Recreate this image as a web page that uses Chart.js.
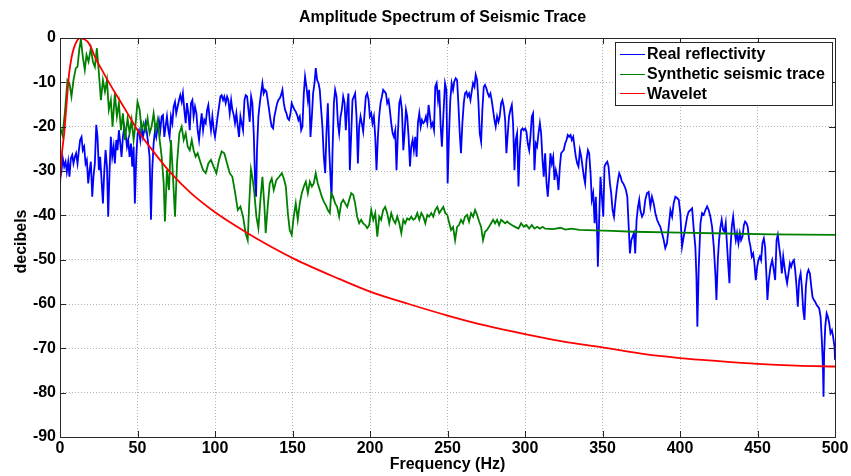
<!DOCTYPE html>
<html>
<head>
<meta charset="utf-8">
<script src="https://cdn.jsdelivr.net/npm/chart.js@4.4.1/dist/chart.umd.min.js"></script>
<style>
  html, body { margin: 0; padding: 0; background: #fff; }
  canvas { display: block; }
</style>
</head>
<body>
<canvas id="spectrum" width="851" height="476"></canvas>
<script>
// [frequency Hz, decibels]
const realReflectivity = [
  [0,-26.8],[1,-29.8],[1.8,-27.1],[2.7,-29],[3.6,-27.9],[4.4,-30.2],[5.3,-27.9],[6.1,-31.3],[7,-27.1],[7.9,-26.4],
  [8.7,-28.3],[9.6,-26.8],[10.4,-26],[11.3,-28.3],[12.2,-25.3],[13,-23],[13.9,-22.3],[14.7,-25.3],[15.6,-24.5],[16.5,-28.3],
  [17.3,-27.5],[18.2,-32.8],[19.1,-29.8],[19.9,-27.9],[20.8,-35.8],[21.6,-31.3],[22.5,-28.3],[23.4,-19.6],[24.2,-22.3],[25.1,-29.8],
  [25.9,-26.8],[26.8,-32],[27.7,-37.3],[28.5,-30.5],[29.4,-25.3],[30.3,-29],[31.1,-40.3],[32,-29.8],[32.8,-22.3],[33.7,-26.8],
  [34.6,-24.5],[35.4,-28.3],[36.3,-23],[37.1,-25.3],[38,-20.8],[38.9,-23.8],[39.7,-26.8],[40.6,-22.3],[41.5,-20],[42.3,-21.5],
  [43.2,-24.5],[44,-23],[44.9,-26.8],[45.8,-23.8],[46.6,-29],[47.5,-24.5],[48.3,-37.3],[49.2,-26.8],[50.1,-21.5],[50.9,-20.8],
  [51.8,-23],[52.6,-20],[53.5,-22.3],[54.4,-20.8],[55.2,-19.2],[56.1,-21.5],[56.9,-23.8],[57.8,-26.8],[58.7,-41],[59.5,-29.8],
  [60.4,-23.8],[61.3,-20.8],[62.1,-22.3],[63,-20],[63.8,-18.5],[64.7,-20.8],[65.6,-17.7],[66.4,-17.4],[67.3,-22.3],[68.1,-20],
  [69,-17.7],[69.9,-20.8],[70.7,-22.3],[71.6,-17.7],[72.5,-19.2],[73.3,-15.5],[74.2,-14.4],[75,-17],[75.9,-15.5],[76.8,-14],
  [77.6,-12.9],[78.5,-14.4],[79.3,-12.5],[80.2,-16.2],[81.1,-19.2],[81.9,-14.7],[82.8,-17],[83.7,-20.8],[84.5,-14.7],[85.4,-14],
  [86.2,-17.7],[87.1,-15.5],[88,-17],[88.8,-20.8],[89.7,-23],[90.5,-20],[91.4,-17],[92.3,-20.8],[93.1,-18.5],[94,-19.2],
  [94.9,-16.2],[95.7,-15.1],[96.6,-18.5],[97.4,-20.8],[98.3,-17.7],[99.2,-20.8],[100,-22.3],[100.9,-20],[101.7,-17.7],[102.6,-15.5],
  [103.5,-13.2],[104.3,-12.9],[105.2,-14],[106,-13.2],[106.9,-14.7],[107.8,-13.2],[108.6,-14],[109.5,-17],[110.4,-14],[111.2,-16.2],
  [112.1,-17.4],[112.9,-19.2],[113.8,-17],[114.7,-20],[115.5,-22.3],[116.4,-17.7],[117.2,-19.2],[118.1,-20.8],[119,-14],[119.8,-12.9],
  [120.7,-13.2],[121.6,-16.2],[122.4,-18.9],[123.3,-13.2],[124.1,-14.7],[125,-21.5],[125.9,-32.8],[126.5,-35.8],[127.1,-25.3],[128,-17.7],
  [128.9,-14.7],[129.7,-12.5],[130.6,-10.2],[131.4,-12.5],[132.3,-11.7],[133.2,-12.1],[134,-14],[134.9,-16.2],[135.8,-18.5],[136.6,-20],
  [137.5,-20.4],[138.3,-17.7],[139.2,-16.2],[140.1,-14.7],[140.9,-14],[141.8,-13.6],[142.6,-12.9],[143.5,-11.7],[144.4,-14.7],[145.2,-16.2],
  [146.1,-17],[146.9,-18.1],[147.8,-18.5],[148.7,-17],[149.5,-14.7],[150.4,-15.5],[151.3,-16.2],[152.1,-16.6],[153,-17.4],[153.8,-18.5],
  [154.7,-17.7],[155.6,-20.8],[156.4,-20],[157.3,-12.5],[158.1,-8.7],[159,-11],[159.9,-14],[160.7,-11.7],[161.6,-22.3],[162.5,-17.7],
  [163.3,-12.5],[164.2,-10.2],[165,-6.8],[165.9,-9.5],[166.8,-10.2],[167.6,-11.7],[168.5,-16.2],[169.3,-20],[170.2,-26.8],[171.1,-30.5],
  [171.9,-21.5],[172.8,-14.7],[173.7,-25.3],[174.5,-31.3],[175.2,-36.2],[175.8,-26],[176.7,-14.7],[177.5,-11.7],[178.4,-13.2],[179.3,-19.2],
  [180.1,-21.5],[181,-17.7],[181.8,-16.2],[182.7,-13.2],[183.6,-14.7],[184.4,-20.8],[185.3,-15.5],[186.1,-12.5],[187,-29.8],[187.9,-21.5],
  [188.7,-14],[189.6,-13.2],[190.4,-12.5],[191.3,-17.7],[192.2,-28.3],[193,-20],[193.9,-17.7],[194.7,-19.2],[195.6,-21.1],[196.5,-17],
  [197.3,-13.2],[198.2,-12.5],[199.1,-14],[199.9,-17.7],[200.8,-17],[201.6,-19.2],[202.5,-17.7],[203.4,-22.3],[204.2,-29.8],[205.1,-22.3],
  [205.9,-17.7],[206.8,-14.7],[207.7,-13.2],[208.5,-11.7],[209.4,-12.1],[210.3,-12.5],[211.1,-14.7],[212,-14],[212.8,-16.2],[213.7,-19.2],
  [214.6,-21.5],[215.4,-22.3],[216.3,-20.8],[217.1,-29.8],[218,-21.5],[218.9,-14.7],[219.7,-13.6],[220.6,-16.2],[221.5,-25.3],[222.3,-21.5],
  [223.2,-16.2],[224,-17.7],[224.9,-22.3],[225.8,-29],[226.6,-24.5],[227.5,-23],[228.3,-25.3],[229.2,-22.3],[230.1,-26.8],[230.9,-19.2],
  [231.8,-17],[232.7,-20],[233.5,-18.5],[234.4,-19.2],[235.2,-18.9],[236.1,-17.7],[237,-19.2],[237.8,-15.1],[238.7,-17.7],[239.5,-20],
  [240.4,-19.2],[241.3,-20.8],[242.1,-11],[243,-10.2],[243.9,-14],[244.7,-11.7],[245.6,-20],[246.4,-24.5],[247.3,-17.7],[248.4,-10.2],
  [249.3,-11.7],[250.1,-32.8],[251,-21.5],[251.8,-14],[252.7,-10.2],[253.6,-11.7],[254.4,-9.8],[255.3,-9.1],[256.2,-9.5],[257,-14.7],
  [257.9,-21.5],[258.7,-26],[259.6,-19.2],[260.5,-14.7],[261.3,-12.5],[262.2,-12.1],[263,-13.2],[263.9,-12.5],[264.8,-14],[265.6,-12.1],
  [266.5,-10.2],[267.4,-11],[268.2,-8.3],[269.1,-9.5],[269.9,-14],[270.8,-21.5],[271.7,-23.4],[272.5,-16.2],[273.4,-11],[274.2,-10.6],
  [275.1,-11.4],[276,-12.5],[276.8,-13.2],[277.7,-12.5],[278.5,-14],[279.4,-16.2],[280.3,-18.5],[281.1,-20],[282,-17.7],[282.9,-18.9],
  [283.7,-17.7],[284.6,-14.7],[285.4,-14],[286.3,-15.5],[287.2,-18.5],[288,-26],[288.9,-21.5],[289.7,-17.7],[290.6,-16.2],[291.5,-15.1],
  [292.3,-19.2],[293.2,-29.8],[294,-23],[294.9,-21.5],[295.8,-33.5],[296.6,-25.3],[297.5,-20.8],[298.4,-20.4],[299.2,-20.8],[300.1,-20.4],
  [300.9,-21.1],[301.8,-23.8],[302.7,-25.3],[303.5,-22.3],[304.4,-17.7],[305.2,-17],[306.1,-29.8],[307,-23.8],[307.8,-24.5],[308.7,-21.5],
  [309.6,-19.2],[310.4,-21.5],[311.3,-27.5],[312.1,-31.3],[313,-26],[313.9,-32.8],[314.7,-35.8],[315.6,-31.3],[316.4,-26],[317.3,-28.3],
  [318.2,-26.8],[319,-32],[319.9,-29.8],[320.8,-31.3],[321.6,-34.3],[322.5,-29],[323.3,-26],[324.2,-25.6],[325,-25.3],[325.9,-23.8],
  [326.8,-23],[327.6,-21.9],[328.5,-22.3],[329.4,-21.9],[330.2,-23],[331.1,-22.3],[331.9,-24.5],[332.8,-26.8],[333.7,-28.3],[334.5,-29],
  [335.4,-25.3],[336.3,-26.8],[337.1,-29],[338,-31.3],[338.8,-32.8],[339.7,-27.5],[340.6,-25.3],[341.4,-26],[342.3,-30.5],[343.1,-36.5],
  [344,-35],[344.9,-41.8],[345.7,-35.8],[346.6,-44.8],[347,-51.6],[347.9,-40.3],[348.7,-31.3],[349.6,-35.8],[350.5,-40.3],[351.3,-29],
  [352.2,-28.3],[353.1,-27.9],[353.9,-29],[354.8,-32.8],[355.6,-35],[356.5,-38.8],[357.4,-40.3],[358.2,-37.3],[359.1,-34.3],[360,-32],
  [360.8,-30.5],[361.7,-31.3],[362.5,-32.4],[363.4,-32.8],[364.3,-33.5],[365.1,-34.3],[366,-35.8],[366.8,-41.8],[367.7,-48.6],[368.6,-45.6],
  [369.4,-44.8],[370.3,-44],[371.1,-48.6],[372,-41],[372.9,-38.1],[373.7,-36.5],[374.4,-38.8],[375.5,-40.3],[376.6,-39.5],[377.6,-36.5],
  [378.7,-35],[379.8,-34.7],[380.9,-38],[381.9,-35.8],[383,-37.3],[384.1,-39.5],[385.2,-41],[386.2,-41.8],[387.3,-42.6],[388.4,-44],
  [389.5,-45.6],[390.5,-47.4],[391.6,-46.3],[392.7,-42.6],[393.8,-38.8],[394.9,-40.3],[395.9,-37.3],[397,-35.8],[398.1,-36.1],[399.2,-36.5],
  [400.2,-39.5],[401.3,-47.1],[402.4,-44.8],[403.5,-42.6],[404.6,-40.3],[405.6,-39.2],[406.7,-38.8],[407.8,-38.4],[408.9,-43.3],[409.9,-47.1],
  [410.6,-53.8],[411.2,-65.1],[412.1,-51.6],[413.2,-41.8],[414.2,-39.5],[415.3,-39.9],[416.4,-38.8],[417.5,-38],[418.5,-38.8],[419.6,-40.3],
  [420.7,-42.6],[421.8,-47.1],[422.9,-53.8],[423.5,-59.1],[424.4,-50.1],[425.2,-45.6],[426.1,-42.6],[426.9,-41],[427.8,-43.3],[428.7,-43.7],
  [429.5,-41.8],[430.4,-47.1],[431.2,-51.6],[431.9,-55.3],[432.5,-47.8],[433.4,-42.6],[434.3,-40.3],[435.1,-43.3],[436,-45.6],[436.8,-44],
  [437.7,-46.3],[438.6,-44],[439.4,-45.6],[440.3,-44.8],[441.2,-42.2],[442,-41.4],[442.9,-41.8],[443.7,-42.6],[444.6,-45.6],[445.5,-47.1],
  [446.3,-49.3],[447.2,-48.6],[448,-50.8],[448.9,-54.6],[449.8,-51.6],[450.6,-50.1],[451.5,-49.3],[452.3,-50.1],[453.2,-46.3],[454.1,-45.2],
  [454.9,-47.1],[455.8,-53.8],[456.4,-59.1],[457.3,-54.6],[458.4,-51.6],[459.5,-50.1],[460.5,-52.3],[461.4,-54.6],[462.3,-45.6],[463.1,-44.4],
  [464,-47.1],[464.8,-49.3],[465.7,-53.1],[466.6,-49.3],[467.4,-51.6],[468.3,-53.8],[469.1,-55.3],[470,-53.1],[470.9,-50.8],[471.7,-51.6],
  [472.6,-50.5],[473.5,-50.1],[474.3,-52.3],[475.2,-56.1],[476,-60.6],[476.9,-54.6],[477.8,-53.1],[478.6,-56.1],[479.5,-61.4],[480.3,-63.6],
  [481.2,-56.1],[482.1,-53.1],[482.9,-52.3],[483.8,-53.1],[484.7,-56.1],[485.5,-58.4],[486.4,-59.1],[487.2,-59.5],[488.1,-60.2],[489,-60.6],
  [489.8,-61],[490.7,-62.9],[491.5,-68.1],[492.2,-74.1],[492.6,-80.9],[493,-71.1],[493.7,-65.1],[494.6,-62.1],[495.4,-62.9],[496.3,-64.4],
  [497.1,-66.6],[498,-65.9],[498.8,-67.4],[499.7,-69.7],[500,-72.6]
];

const syntheticTrace = [
  [0,-20],[1.6,-21.9],[3.1,-17],[4.8,-9.5],[6.1,-10.2],[7.4,-13.2],[8.7,-9.5],[10.2,-6.8],[11.3,-6.5],[12.4,-2.7],
  [13.5,-0.3],[14.7,-4.2],[16,-7.2],[17.1,-3.8],[18.4,-5.3],[19.9,-2.3],[21.2,-5.3],[22.5,-6.5],[23.8,-2.3],[25.1,-8],
  [26.4,-14],[27.7,-9.5],[29,-12.1],[30.3,-9.5],[31.5,-16.2],[32.8,-14],[33.9,-20],[35.4,-12.5],[36.7,-17.7],[38,-14.7],
  [39.3,-20.8],[40.6,-17],[41.9,-23],[43.6,-18.1],[44.9,-21.5],[46.2,-18.5],[47.5,-23],[48.8,-19.2],[50,-14.4],[51.4,-16.2],
  [52.6,-20.8],[53.9,-19.2],[55.2,-20.8],[56.5,-18.1],[57.8,-21.5],[59.1,-20],[60.4,-17],[61.7,-20.8],[63,-18.5],[64.3,-23],
  [65.6,-26.8],[66.9,-32.8],[67.7,-41.4],[69,-29.8],[70.3,-34.3],[71.6,-23],[72.9,-31.3],[74.2,-40.3],[75.5,-28.3],[77,-21.5],
  [78.5,-20],[79.8,-23],[81.1,-21.5],[82.4,-24.5],[83.7,-25.3],[85,-23],[86.2,-25.3],[87.5,-26.8],[88.8,-26],[90.5,-27.9],
  [92.3,-29.8],[94,-30.5],[95.7,-28.3],[97.4,-27.5],[99.1,-29],[100.9,-30.5],[102.6,-27.5],[104.3,-25.6],[106,-26],[107.8,-28.3],
  [109.5,-30.5],[111.2,-31.3],[112.9,-34.7],[114.7,-38.8],[116.4,-38],[118.1,-40.3],[119.8,-44.1],[121.1,-45.6],[122,-38],[123.2,-29.6],
  [124.1,-31.3],[125.4,-35],[126.7,-40.3],[128,-42.9],[129.3,-36.5],[130.6,-31.3],[131.9,-38.1],[132.7,-44],[134,-38.1],[135.3,-32.8],
  [136.6,-31.7],[137.9,-34.3],[139.6,-32],[141.4,-31.3],[143.1,-30.5],[144.4,-31.7],[145.7,-33.5],[147,-39.5],[148.2,-43.3],[149.5,-44.4],
  [150.8,-40.3],[152.1,-37.3],[153.4,-41],[154.7,-37.3],[156,-35],[157.3,-33.5],[158.6,-32.4],[159.9,-35],[161.2,-32.4],[162.5,-33.5],
  [163.7,-32.8],[165,-30.5],[166.3,-32.8],[167.6,-34.3],[168.9,-35.8],[170.2,-36.9],[171.5,-37.7],[172.8,-38.8],[174.1,-39.5],[175,-35],
  [176.2,-35.8],[177.5,-37.3],[178.8,-38.1],[180.1,-40.3],[181.4,-37.3],[182.7,-36.5],[184,-37.3],[185.3,-38.1],[186.6,-36.5],[187.9,-35],
  [189.2,-35.4],[190.4,-37.3],[191.7,-40.3],[193,-41.8],[194.3,-41],[195.6,-41.8],[196.9,-42.2],[198.2,-42.9],[199.5,-42.2],[200.8,-38.8],
  [202.1,-41],[203.4,-39.5],[204.7,-44.8],[206,-40.3],[207.2,-41],[208.5,-38.8],[209.8,-38.1],[211.1,-39.5],[212.4,-41.8],[213.7,-39.5],
  [215,-41],[216.3,-41.8],[217.6,-40.3],[218.9,-41.8],[220.2,-44],[221.5,-41],[222.7,-41.8],[224,-40.7],[225.3,-41],[226.6,-40.3],
  [227.9,-41],[229.2,-40.7],[230.5,-39.5],[231.8,-41],[233.1,-39.5],[234.4,-40.3],[235.7,-41.8],[237,-39.9],[238.2,-40.3],[239.5,-39.5],
  [240.8,-40.3],[242.1,-38.8],[243.4,-38.1],[244.7,-39.5],[246,-38.8],[247.3,-38.1],[248.6,-39.5],[249.9,-39.9],[250.6,-41],[252.3,-43.3],
  [253.6,-42.6],[254.9,-45.6],[256.2,-42.6],[257.4,-42.2],[258.7,-41],[260,-41.8],[261.3,-40.3],[262.6,-39.9],[263.9,-41.4],[265.2,-39.5],
  [266.5,-40.3],[267.8,-38.8],[269.1,-39.9],[270.4,-41.4],[271.7,-42.6],[272.9,-45.6],[274.2,-43.7],[275.5,-43.3],[276.8,-42.6],[278.1,-41.8],
  [279.4,-41],[280.7,-41.8],[282,-41],[283.3,-42.2],[284.6,-41],[285.9,-41.4],[287.2,-41.8],[288.5,-41.4],[289.7,-41.8],[291.5,-42.2],
  [293.6,-42.6],[295.8,-43],[297.5,-41.8],[299.2,-42.6],[300.9,-42.2],[302.7,-43],[304.4,-42.2],[306.1,-43],[307.8,-42.6],[309.6,-43],
  [311.3,-42.6],[313,-43],[318,-43.1],[323,-42.8],[326,-43.2],[330,-43],[335,-43.3],[345,-43.4],[356,-43.5],[370,-43.7],
  [400,-43.9],[430,-44.1],[460,-44.3],[500,-44.4]
];

const wavelet = [
  [0,-33.2],[1,-27],[2.7,-21.5],[4,-16],[5.9,-8],[7.5,-4.3],[9.2,-2],[11,-0.6],[13,0],[15,-0.2],
  [17.8,-0.8],[20,-2.1],[22,-3.8],[24,-5.3],[26.4,-6.8],[30.7,-9.5],[37,-13.2],[43.6,-17],[50,-20.8],[58.7,-24.9],
  [71.6,-30.5],[84.5,-35],[99.6,-39.2],[112.5,-42.2],[127.6,-45.4],[150.4,-49.7],[180.5,-54.4],[200,-57.2],[225,-60],[250,-62.6],
  [275,-64.9],[300,-66.8],[325,-68.5],[350,-69.8],[375,-71.2],[400,-72.2],[425,-72.9],[450,-73.5],[475,-73.9],[500,-74.1]
];

const seriesLabels = ['Real reflectivity', 'Synthetic seismic trace', 'Wavelet'];
const seriesColors = ['#0000ff', '#008000', '#ff0000'];

const FONT = "bold 16px 'Liberation Sans', Arial, Helvetica, sans-serif";
const AXIS_COLOR = '#262626';

function toPoints(pairs) {
    return pairs.map(p => ({ x: p[0], y: p[1] }));
}

// title, axis labels, box, inward ticks and legend drawn the MATLAB way
const matlabFrame = {
    id: 'matlabFrame',
    afterDraw(chart) {
        const ctx = chart.ctx;
        const a = chart.chartArea;
        const xs = chart.scales.x;
        const ys = chart.scales.y;
        ctx.save();

        ctx.strokeStyle = AXIS_COLOR;
        ctx.lineWidth = 1;
        ctx.setLineDash([]);
        ctx.strokeRect(Math.round(a.left) + 0.5, Math.round(a.top) + 0.5,
            Math.round(a.right - a.left), Math.round(a.bottom - a.top));

        ctx.beginPath();
        xs.ticks.forEach(t => {
            const px = Math.round(xs.getPixelForValue(t.value)) + 0.5;
            ctx.moveTo(px, a.bottom); ctx.lineTo(px, a.bottom - 6);
            ctx.moveTo(px, a.top); ctx.lineTo(px, a.top + 6);
        });
        ys.ticks.forEach(t => {
            const py = Math.round(ys.getPixelForValue(t.value)) + 0.5;
            ctx.moveTo(a.left, py); ctx.lineTo(a.left + 6, py);
            ctx.moveTo(a.right, py); ctx.lineTo(a.right - 6, py);
        });
        ctx.stroke();

        ctx.fillStyle = '#000';
        ctx.font = FONT;
        ctx.textAlign = 'center';
        ctx.textBaseline = 'middle';
        ctx.fillText('Amplitude Spectrum of Seismic Trace', (a.left + a.right) / 2 - 5, 18);
        ctx.fillText('Frequency (Hz)', (a.left + a.right) / 2, 465);

        ctx.save();
        ctx.translate(22, (a.top + a.bottom) / 2 + 4);
        ctx.rotate(-Math.PI / 2);
        ctx.fillText('decibels', 0, 0);
        ctx.restore();

        // legend box
        const lx = 615, ly = 42, lw = 217, lh = 63;
        ctx.fillStyle = '#fff';
        ctx.fillRect(lx, ly, lw, lh);
        ctx.strokeStyle = AXIS_COLOR;
        ctx.strokeRect(lx + 0.5, ly + 0.5, lw, lh);
        ctx.textAlign = 'left';
        seriesLabels.forEach((label, i) => {
            const yy = 54 + i * 19.7;
            ctx.strokeStyle = seriesColors[i];
            ctx.lineWidth = 1;
            ctx.beginPath();
            ctx.moveTo(620, Math.round(yy) + 0.5);
            ctx.lineTo(645, Math.round(yy) + 0.5);
            ctx.stroke();
            ctx.fillStyle = '#000';
            ctx.fillText(label, 647, yy + 1);
        });
        ctx.restore();
    }
};

const tickFont = { family: "'Liberation Sans', Arial, Helvetica, sans-serif", size: 16, weight: 'bold' };

new Chart(document.getElementById('spectrum'), {
    type: 'line',
    data: {
        datasets: [
            { label: seriesLabels[0], data: toPoints(realReflectivity), borderColor: seriesColors[0], borderWidth: 1.8, tension: 0, order: 3 },
            { label: seriesLabels[1], data: toPoints(syntheticTrace), borderColor: seriesColors[1], borderWidth: 1.8, tension: 0, order: 2 },
            { label: seriesLabels[2], data: toPoints(wavelet), borderColor: seriesColors[2], borderWidth: 1.8, cubicInterpolationMode: 'monotone', order: 1 }
        ]
    },
    options: {
        responsive: false,
        animation: false,
        devicePixelRatio: 1,
        layout: { padding: { left: 0, right: 16, top: 38, bottom: 0 } },
        elements: { point: { radius: 0 } },
        plugins: {
            legend: { display: false },
            tooltip: { enabled: false },
            title: { display: false }
        },
        scales: {
            x: {
                type: 'linear',
                min: 0,
                max: 500,
                ticks: { stepSize: 50, autoSkip: false, maxRotation: 0, color: '#000', font: tickFont, padding: 2 },
                grid: { color: '#b4b4b4', lineWidth: 1, drawTicks: false },
                border: { display: false, dash: [1, 2] },
                afterFit: s => { s.height = 39; }
            },
            y: {
                min: -90,
                max: 0,
                ticks: { stepSize: 10, color: '#000', font: tickFont, padding: 4 },
                grid: { color: '#b4b4b4', lineWidth: 1, drawTicks: false },
                border: { display: false, dash: [1, 2] },
                afterFit: s => { s.width = 60; }
            }
        }
    },
    plugins: [matlabFrame]
});
</script>
</body>
</html>
